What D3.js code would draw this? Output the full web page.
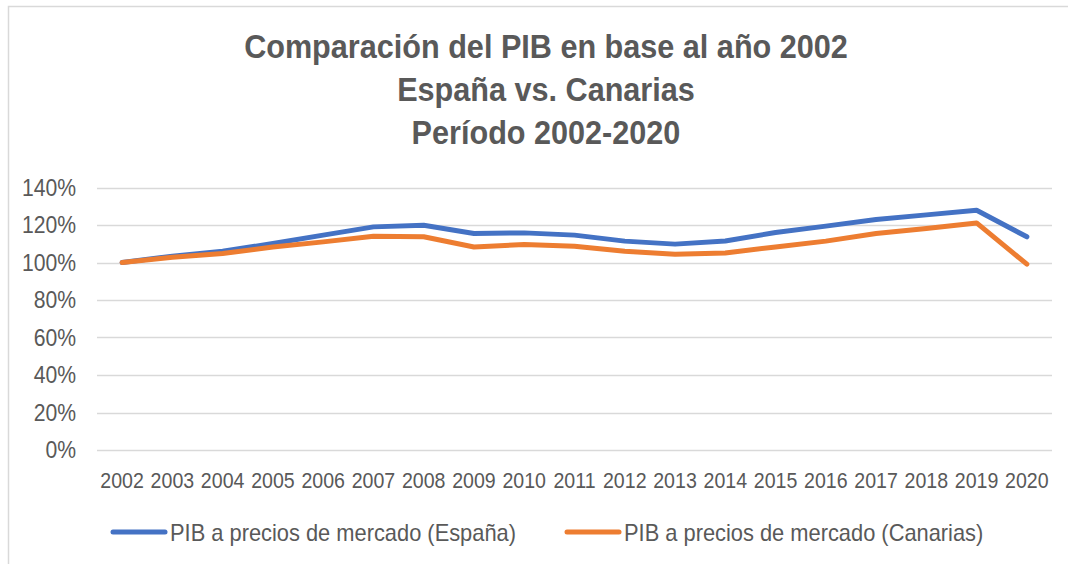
<!DOCTYPE html>
<html>
<head>
<meta charset="utf-8">
<script src="https://cdn.jsdelivr.net/npm/d3@7"></script>
<style>
  body { margin: 0; background: #fff; }
  text { font-family: "Liberation Sans", Arial, sans-serif; fill: #595959; }
</style>
</head>
<body>
<div id="chart"></div>
<script>
const years = ['2002', '2003', '2004', '2005', '2006', '2007', '2008', '2009', '2010', '2011',
    '2012', '2013', '2014', '2015', '2016', '2017', '2018', '2019', '2020'];
const espana = [100, 103.4, 106.0, 110.1, 114.6, 119.0, 119.9, 115.5, 115.8, 114.6,
    111.4, 109.8, 111.5, 116.0, 119.4, 122.9, 125.4, 127.9, 113.7];
const canarias = [100, 102.8, 104.8, 108.3, 111.0, 114.0, 113.7, 108.3, 109.6, 108.7,
    106.0, 104.4, 105.1, 108.3, 111.4, 115.5, 118.1, 121.1, 99.1];
const yTicks = [0, 20, 40, 60, 80, 100, 120, 140];
const titleLines = ['Comparación del PIB en base al año 2002', 'España vs. Canarias', 'Período 2002-2020'];
const seriesNames = ['PIB a precios de mercado (España)', 'PIB a precios de mercado (Canarias)'];
const colors = ['#4472c4', '#ed7d31'];

const width = 1068;
const height = 564;

// narrow font look: squeeze each text horizontally
function condense(sel, k) {
    sel.each(function() {
        const len = this.getComputedTextLength();
        d3.select(this).attr('textLength', len * k).attr('lengthAdjust', 'spacingAndGlyphs');
    });
}

const svg = d3.select('#chart')
    .append('svg')
    .attr('width', width)
    .attr('height', height);

// chart border (only top and left visible)
svg.append('path')
    .attr('d', 'M8.5,' + height + 'V6.5H' + width)
    .attr('fill', 'none')
    .attr('stroke', '#d9d9d9')
    .attr('stroke-width', 1.5);

svg.append('g')
    .selectAll('text')
    .data(titleLines)
    .enter()
    .append('text')
    .attr('x', 546)
    .attr('y', (d, i) => [58, 101, 144][i])
    .attr('text-anchor', 'middle')
    .style('font-size', '34px')
    .style('font-weight', 'bold')
    .text(d => d)
    .call(condense, 0.9);

const x = d3.scalePoint()
    .domain(years)
    .range([97, 1052])
    .padding(0.5);

const y = d3.scaleLinear()
    .domain([0, 140])
    .range([450, 187.5]);

// gridlines
svg.append('g')
    .selectAll('line')
    .data(yTicks)
    .enter()
    .append('line')
    .attr('x1', 97)
    .attr('x2', 1052)
    .attr('y1', d => Math.round(y(d)) + 0.5)
    .attr('y2', d => Math.round(y(d)) + 0.5)
    .attr('stroke', '#d9d9d9')
    .attr('stroke-width', 1.5);

// y labels
svg.append('g')
    .selectAll('text')
    .data(yTicks)
    .enter()
    .append('text')
    .attr('x', 76)
    .attr('y', d => y(d) + 8)
    .attr('text-anchor', 'end')
    .style('font-size', '23px')
    .text(d => d + '%')
    .call(condense, 0.92);

// x labels
svg.append('g')
    .selectAll('text')
    .data(years)
    .enter()
    .append('text')
    .attr('x', d => x(d))
    .attr('y', 488)
    .attr('text-anchor', 'middle')
    .style('font-size', '22px')
    .text(d => d)
    .call(condense, 0.89);

const line = d3.line()
    .x((d, i) => x(years[i]))
    .y(d => y(d));

[espana, canarias].forEach((series, i) => {
    svg.append('path')
        .datum(series)
        .attr('d', line)
        .attr('fill', 'none')
        .attr('stroke', colors[i])
        .attr('stroke-width', 5)
        .attr('stroke-linejoin', 'round')
        .attr('stroke-linecap', 'round');
});

// legend
const legend = svg.selectAll('.legend')
    .data(seriesNames)
    .enter()
    .append('g')
    .attr('class', 'legend')
    .attr('transform', (d, i) => 'translate(' + [113, 567][i] + ',532)');

legend.append('line')
    .attr('x1', 0)
    .attr('x2', 52)
    .attr('stroke', (d, i) => colors[i])
    .attr('stroke-width', 5)
    .attr('stroke-linecap', 'round');

legend.append('text')
    .attr('x', 57)
    .attr('y', 9)
    .style('font-size', '24px')
    .text(d => d)
    .call(condense, 0.91);
</script>
</body>
</html>
